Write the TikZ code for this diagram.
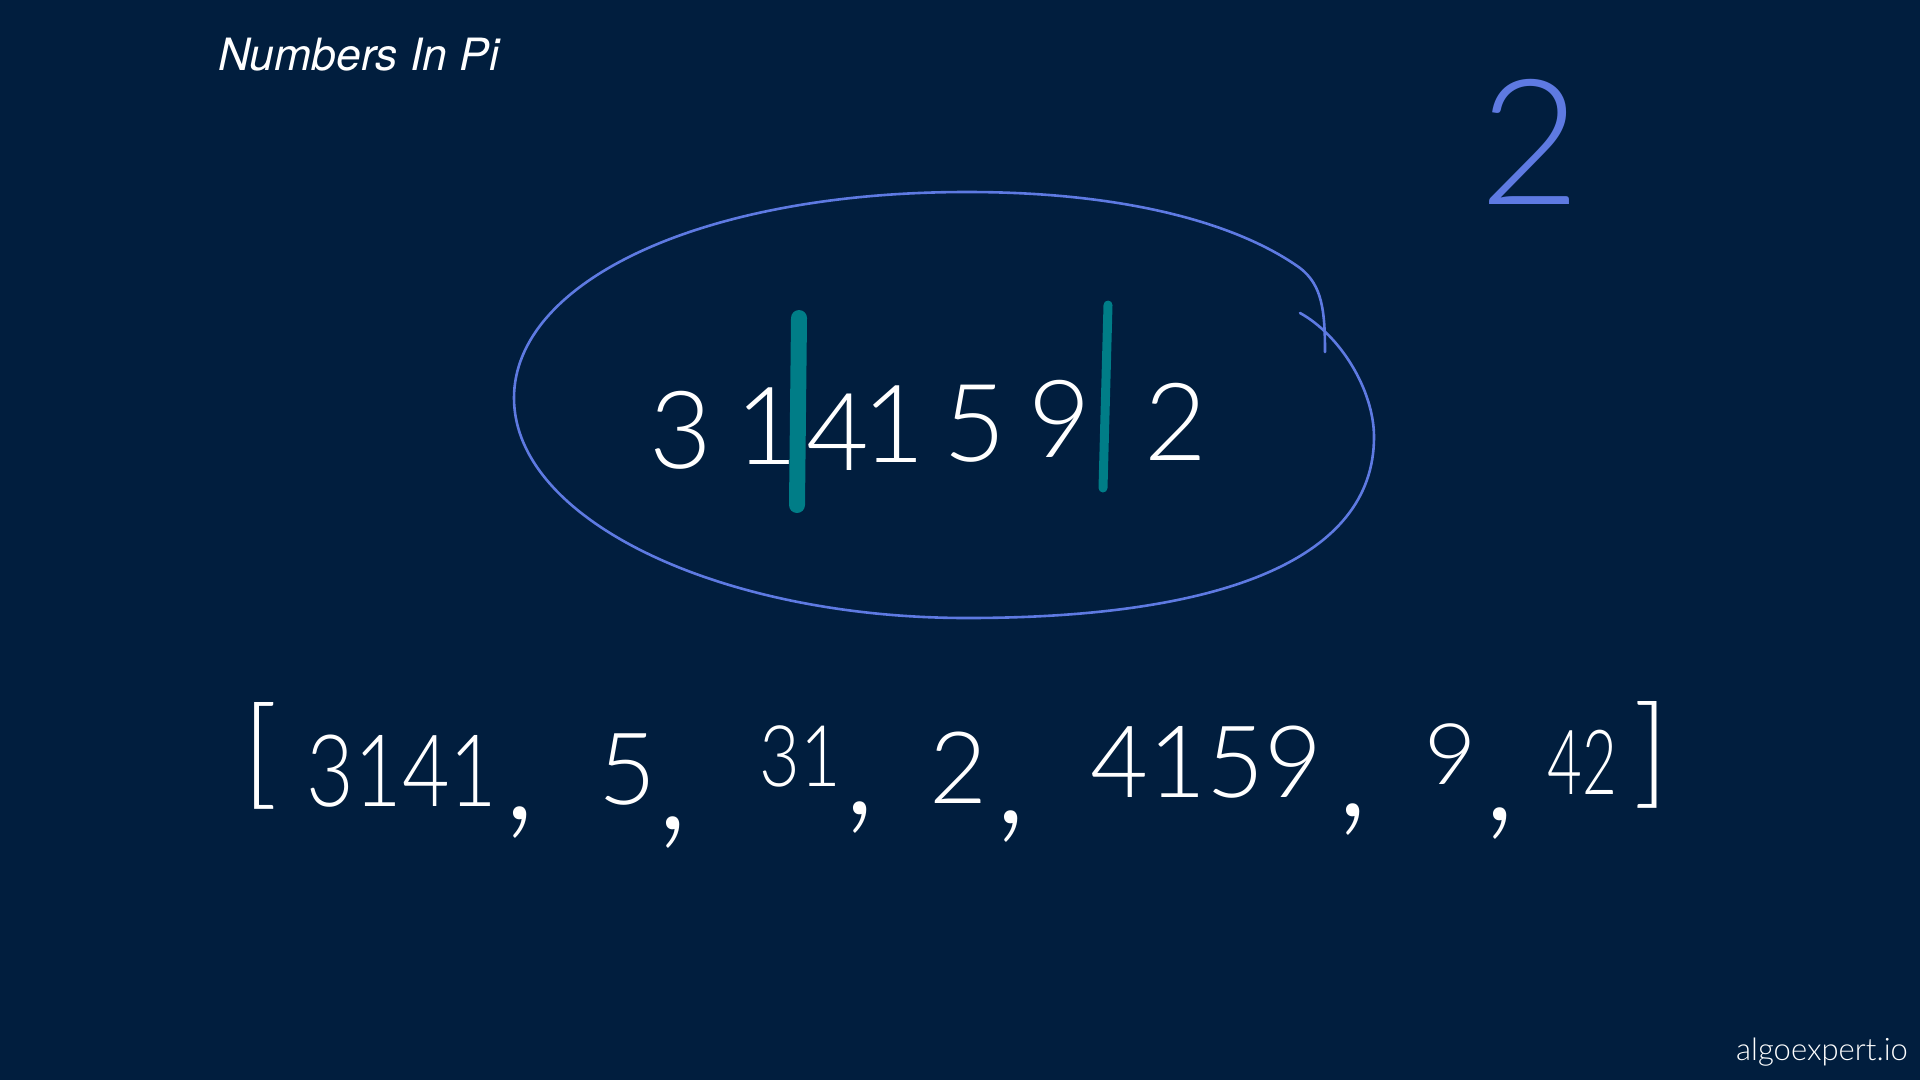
\documentclass[tikz,border=0pt]{standalone}
\usepackage{fontspec}
\setmainfont{TeX Gyre Heros}
\newfontfamily\hand{Lato Light}
\definecolor{bg}{RGB}{1,30,62}
\definecolor{pen}{RGB}{94,122,226}
\definecolor{mark}{RGB}{0,125,135}
\begin{document}
\begin{tikzpicture}[x=1pt,y=-1pt,
  inner/.style={text=white, inner sep=0pt, font=\hand\fontsize{108}{108}\selectfont},
  listdig/.style={text=white, inner sep=0pt, font=\hand\fontsize{100}{100}\selectfont},
  listcomma/.style={text=white, inner sep=0pt, font=\hand\fontsize{150}{150}\selectfont},
  bracket/.style={text=white, inner sep=0pt, font=\hand\fontsize{120}{120}\selectfont},
  penline/.style={draw=pen, line width=2.6pt, line cap=round, line join=round},
  cut/.style={draw=mark, line cap=round}]
\fill[bg] (0,0) rectangle (1920,1080);
\useasboundingbox (0,0) rectangle (1920,1080);

% title and footer
\node[anchor=base west, inner sep=0pt, text=white, font=\itshape\fontsize{44.5}{44.5}\selectfont] (title) at (218,70) {Numbers In Pi};
\node[anchor=base east, inner sep=0pt, text=white, font=\hand\fontsize{31}{31}\selectfont] (brand) at (1908,1060) {algoexpert.io};

% loop around the digits
\draw[penline] (1300,313) .. controls (1340,335) and (1374,390) .. (1374,437)
  .. controls (1374,560) and (1220,618) .. (967,618)
  .. controls (720,618) and (514,520) .. (514,398)
  .. controls (514,282) and (700,192) .. (967,192)
  .. controls (1130,192) and (1240,225) .. (1300,268)
  .. controls (1322,285) and (1325,310) .. (1325,352);

% cut marks
\draw[cut, line width=16pt] (799,318) -- (797,505);
\draw[cut, line width=9pt] (1108,305) -- (1103,488);

% digits of pi
\node[inner] (d1) at (681,430) {3};
\node[inner] (d2) at (767,426) {1};
\node[inner] (d3) at (838,432) {4};
\node[inner] (d4) at (894,424) {1};
\node[inner] (d5) at (975,424) {5};
\node[inner] (d6) at (1060,419) {9};
\node[inner] (d7) at (1176,422) {2};

% count
\node[text=pen, inner sep=0pt, font=\hand\fontsize{175}{175}\selectfont] (count) at (1530,142) {2};

% resulting list
\node[bracket] (lb) at (260,756) {[};
\node[listdig] (n1) at (402,771) {\scalebox{0.82}[1]{3141}};
\node[listcomma] (c1) at (520,823) {,};
\node[listdig] (n2) at (627,770) {5};
\node[listcomma] (c2) at (673,833) {,};
\node[listdig] (n3) at (800,756) {\scalebox{0.7}[0.85]{31}};
\node[listcomma] (c3) at (860,818) {,};
\node[listdig] (n4) at (958,768) {2};
\node[listcomma] (c4) at (1011,827) {,};
\node[listdig] (n5) at (1206,762) {4159};
\node[listcomma] (c5) at (1353,820) {,};
\node[listdig] (n6) at (1451,754) {\scalebox{0.9}[0.85]{9}};
\node[listcomma] (c6) at (1500,824) {,};
\node[listdig] (n7) at (1582,762) {\scalebox{0.6}[0.9]{42}};
\node[bracket] (rb) at (1651,755) {]};
\end{tikzpicture}
\end{document}
